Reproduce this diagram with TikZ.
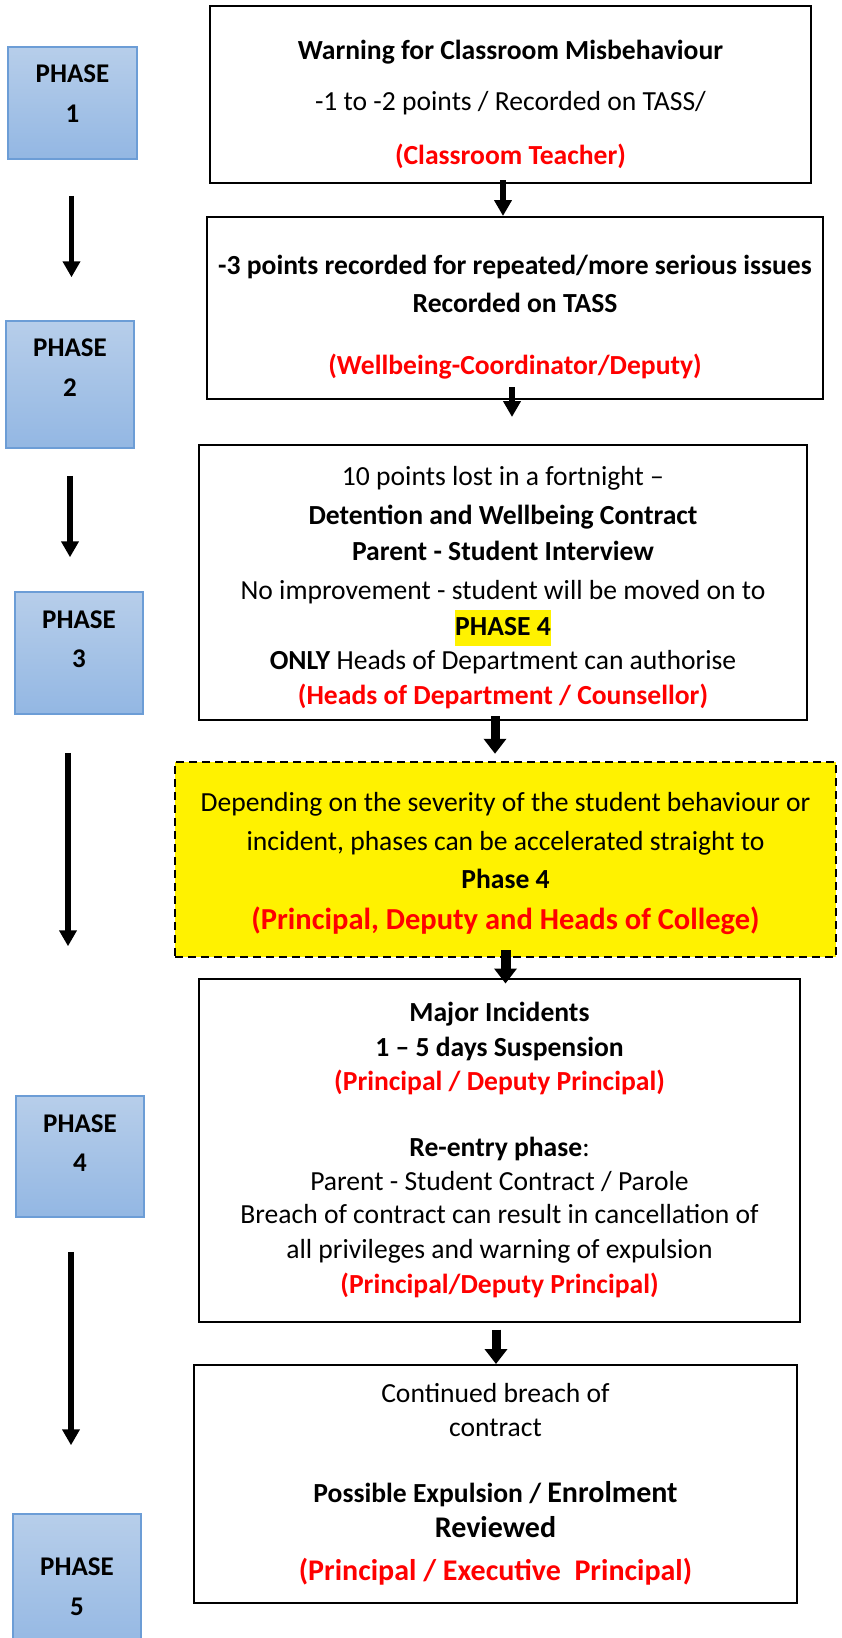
\documentclass[tikz,border=0pt]{standalone}
\usepackage{fontspec}
\setmainfont{Carlito}
\usepackage{tikz}
\usetikzlibrary{positioning, arrows.meta}

\definecolor{phasetop}{RGB}{183,206,234}
\definecolor{phasebot}{RGB}{147,183,227}
\definecolor{phaseedge}{RGB}{108,157,214}

\newcommand{\bigsz}{\fontsize{30}{36}\selectfont}
\newcommand{\respby}[1]{\textcolor{red}{\textbf{#1}}}

\begin{document}
\begin{tikzpicture}[x=1pt, y=-1pt, node distance=10pt,
	box/.style={draw, line width=2pt, inner sep=0pt},
	accbox/.style={draw, fill=yellow, line width=2.5pt, dash pattern=on 8pt off 5pt, inner sep=0pt},
	phasebox/.style={draw=phaseedge, line width=1.5pt, top color=phasetop, bottom color=phasebot, inner sep=0pt},
	phasetxt/.style={align=center, inner sep=0pt, font=\bfseries\fontsize{27}{39.5}\selectfont},
	txt/.style={align=center, inner sep=0pt, font=\fontsize{27.6}{36}\selectfont},
	thinarr/.style={-{Triangle[width=17pt,length=16pt]}, line width=5.5pt},
	thickarr/.style={-{Triangle[width=22pt,length=15pt]}, line width=9pt}]
	\useasboundingbox (0,0) rectangle (842,1638);

	% phases on the left
	\node[phasebox, minimum width=129pt, minimum height=112pt] (p1) at (72.5,103)   {};
	\node[phasebox, minimum width=128pt, minimum height=127pt] (p2) at (70,384.5)   {};
	\node[phasebox, minimum width=128pt, minimum height=122pt] (p3) at (79,653)     {};
	\node[phasebox, minimum width=128pt, minimum height=121pt] (p4) at (80,1156.5)  {};
	\node[phasebox, minimum width=128pt, minimum height=140pt] (p5) at (77,1584)    {};
	\node[phasetxt] (pt1) [above of=p1, node distance=9.5pt] {PHASE\\1};
	\node[phasetxt] (pt2) [above of=p2, node distance=17pt]  {PHASE\\2};
	\node[phasetxt] (pt3) [above of=p3, node distance=14pt]  {PHASE\\3};
	\node[phasetxt] (pt4) [above of=p4, node distance=13.5pt] {PHASE\\4};
	\node[phasetxt] (pt5) [above of=p5, node distance=-2.5pt] {PHASE\\5};

	% steps on the right
	\node[box, minimum width=601pt, minimum height=177pt] (b1)  at (510.5,94.5) {};
	\node[box, minimum width=616pt, minimum height=182pt] (b2)  at (515,308)    {};
	\node[box, minimum width=608pt, minimum height=275pt] (b3)  at (503,582.5)  {};
	\node[accbox, minimum width=661pt, minimum height=195pt] (acc) at (505.5,859.5) {};
	\node[box, minimum width=601pt, minimum height=343pt] (b4)  at (499.5,1150) {};
	\node[box, minimum width=603pt, minimum height=238pt] (b5)  at (495.5,1484) {};

	\node[txt] (t1) [below of=b1, node distance=10pt] {\textbf{Warning for Classroom Misbehaviour}\\[15pt]
		-1 to -2 points / Recorded on TASS/\\[18pt]
		\respby{(Classroom Teacher)}};
	\node[txt] (t2) [below of=b2, node distance=9pt] {\textbf{-3 points recorded for repeated/more serious issues}\\[2pt]
		\textbf{Recorded on TASS}\\[26pt]
		\respby{(Wellbeing-Coordinator/Deputy)}};
	\node[txt] (t3) [below of=b3, node distance=5pt] {10 points lost in a fortnight –\\[3pt]
		\textbf{Detention and Wellbeing Contract}\\
		\textbf{Parent - Student Interview}\\[3pt]
		No improvement - student will be moved on to\\
		{\setlength{\fboxsep}{0pt}\colorbox{yellow}{\strut\textbf{PHASE 4}}}\\[-2pt]
		\textbf{ONLY} Heads of Department can authorise\\[-1pt]
		\respby{(Heads of Department / Counsellor)}};
	\node[txt] (t4) [below of=acc, node distance=3.5pt] {Depending on the severity of the student behaviour or\\[3pt]
		incident, phases can be accelerated straight to\\[2pt]
		\textbf{Phase 4}\\[5pt]
		{\fontsize{30.5}{36}\selectfont\respby{(Principal, Deputy and Heads of College)}}};
	\node[txt] (t5) [below of=b4, node distance=0pt] {\textbf{Major Incidents}\\[-1pt]
		\textbf{1 – 5 days Suspension}\\[-2pt]
		\respby{(Principal / Deputy Principal)}\\[30pt]
		\textbf{Re-entry phase}:\\[-2pt]
		Parent - Student Contract / Parole\\[-3pt]
		Breach of contract can result in cancellation of\\[-1pt]
		all privileges and warning of expulsion\\[-1pt]
		\respby{(Principal/Deputy Principal)}};
	\node[txt] (t6) [below of=b5, node distance=0pt] {Continued breach of\\[-2pt]
		contract\\[30pt]
		\textbf{Possible Expulsion / {\bigsz Enrolment}}\\[-1pt]
		{\bigsz\textbf{Reviewed}}\\[7pt]
		{\bigsz\respby{(Principal / Executive\ \ Principal)}}};

	% arrows between the phases
	\draw[thinarr, shorten <=36pt, shorten >=43pt] ([xshift=-1pt]p1.south) -- ([xshift=-1pt]p1.south |- p2.north);
	\draw[thinarr, shorten <=27pt, shorten >=34pt] (p2.south) -- (p2.south |- p3.north);
	\draw[thinarr, shorten <=38pt, shorten >=149pt] ([xshift=-11pt]p3.south) -- ([xshift=-11pt]p3.south |- p4.north);
	\draw[thinarr, shorten <=34pt, shorten >=68pt] ([xshift=-9pt]p4.south) -- ([xshift=-9pt]p4.south |- p5.north);

	% arrows between the steps
	\draw[thinarr, shorten <=-4pt] ([xshift=-7.5pt]b1.south) -- ([xshift=-7.5pt]b1.south |- b2.north);
	\draw[thinarr, line width=6pt, shorten <=-13pt, shorten >=27pt] ([xshift=-3pt]b2.south) -- ([xshift=-3pt]b2.south |- b3.north);
	\draw[thickarr, shorten <=-5pt, shorten >=7pt] ([xshift=-8pt]b3.south) -- ([xshift=-8pt]b3.south |- acc.north);
	\draw[thickarr, line width=10pt, shorten <=-8pt, shorten >=-6pt] (acc.south) -- (acc.south |- b4.north);
	\draw[thickarr, shorten <=7pt] ([xshift=-3.5pt]b4.south) -- ([xshift=-3.5pt]b4.south |- b5.north);
\end{tikzpicture}
\end{document}
